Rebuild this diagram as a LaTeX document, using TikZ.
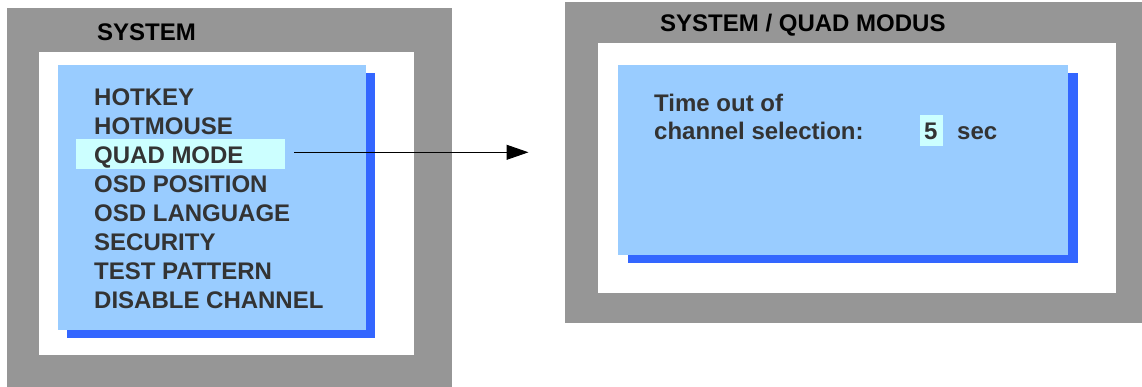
\documentclass[tikz,border=0pt]{standalone}
\usepackage{fontspec}
\setmainfont{Liberation Sans}
\usetikzlibrary{arrows.meta}
\definecolor{frame}{RGB}{150,150,150}
\definecolor{lblue}{RGB}{153,204,255}
\definecolor{dblue}{RGB}{51,102,255}
\definecolor{hilite}{RGB}{204,255,255}
\definecolor{txt}{RGB}{51,51,51}
\tikzset{
  menutext/.style={anchor=base west, inner sep=0pt, text=txt, font=\bfseries\fontsize{24}{29}\selectfont},
  titletext/.style={anchor=base west, inner sep=0pt, text=black, font=\bfseries\fontsize{24}{29}\selectfont},
}
\begin{document}
\begin{tikzpicture}[x=1pt,y=-1pt]
\useasboundingbox (0,0) rectangle (1142,387);
\fill[white] (0,0) rectangle (1142,387);
% left panel
\fill[frame] (7,8) rectangle (452,387);
\fill[white] (39,52) rectangle (414,355);
\fill[dblue] (67,73) rectangle (375,338);
\fill[lblue] (58,65) rectangle (366,330);
\node[titletext] (t1) at (97,40.5) {SYSTEM};
\node[fill=hilite, inner sep=0pt, minimum width=209pt, minimum height=30pt, anchor=north west] (hl) at (76,139) {};
\node[menutext] (m1) at (94,105.5) {HOTKEY};
\node[menutext] (m2) at (94,134.5) {HOTMOUSE};
\node[menutext] (m3) at (94,163.5) {QUAD MODE};
\node[menutext] (m4) at (94,192.5) {OSD POSITION};
\node[menutext] (m5) at (94,221.5) {OSD LANGUAGE};
\node[menutext] (m6) at (94,250.5) {SECURITY};
\node[menutext] (m7) at (94,279.5) {TEST PATTERN};
\node[menutext] (m8) at (94,308.5) {DISABLE CHANNEL};
% right panel
\fill[frame] (565,2) rectangle (1142,323);
\fill[white] (598,43) rectangle (1116,293);
\fill[dblue] (628,73) rectangle (1078,263);
\fill[lblue] (618,65) rectangle (1068,255);
\node[titletext] (t2) at (660,32) {SYSTEM / QUAD MODUS};
\node[menutext] (r1) at (654,111.5) {Time out of};
\node[menutext] (r2) at (654,139.5) {channel selection:};
\node[fill=hilite, inner sep=0pt, minimum width=23pt, minimum height=31pt, anchor=north west] (hv) at (920,115) {};
\node[menutext] (r3) at (924,139.5) {5};
\node[menutext] (r4) at (957,139.5) {sec};
% arrow
\coordinate (a0) at (294,152.3);
\coordinate (a1) at (528.5,152.3);
\draw[line width=1pt, -{Triangle[length=22pt,width=15pt]}] (a0) -- (a1);
\end{tikzpicture}
\end{document}
